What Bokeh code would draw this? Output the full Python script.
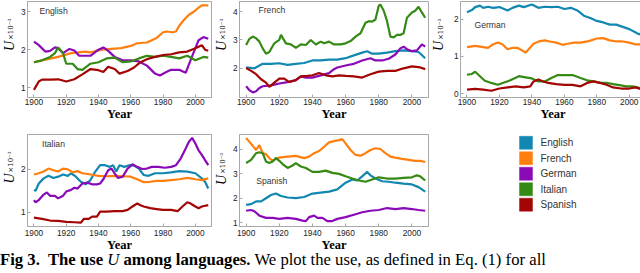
import math
from bokeh.plotting import figure
from bokeh.layouts import column, row
from bokeh.models import Label, Div, FixedTicker, Range1d
from bokeh.core.properties import value
from bokeh.embed import file_html
from bokeh.resources import INLINE

LANGS = ["English", "French", "German", "Italian", "Spanish"]
COLORS = ["#1287B1", "#FF7F0E", "#8B0AB8", "#348A14", "#A30505"]
YEAR_TICKS = [1900, 1920, 1940, 1960, 1980, 2000]

# ---- English panel (use of U by other languages in English) ----
en_French_yr = [1900,1907,1915,1923,1932,1935,1942,1948,1954,1960,1964,1970,1976,1980,1982,1986,1988,1990,1993,1996,1999,2002,2004,2008]
en_French_u = [1.67,1.74,1.81,1.91,1.95,1.93,2.00,2.02,2.04,2.10,2.17,2.19,2.31,2.46,2.48,2.46,2.48,2.63,2.79,2.92,3.00,3.11,3.17,3.17]
en_German_yr = [1900,1903,1907,1910,1913,1915,1918,1922,1925,1928,1935,1940,1943,1946,1950,1955,1960,1965,1970,1975,1978,1982,1985,1990,1994,1997,2000,2002,2005,2008]
en_German_u = [2.21,2.12,1.95,1.97,2.06,2.04,1.91,2.02,1.98,1.84,1.84,2.00,2.06,1.97,1.81,1.72,1.72,1.69,1.58,1.37,1.32,1.41,1.47,1.47,1.39,1.72,2.04,2.25,2.33,2.29]
en_Italian_yr = [1900,1905,1910,1913,1915,1918,1920,1924,1927,1930,1935,1940,1945,1950,1955,1960,1965,1970,1975,1980,1985,1990,1995,2000,2005,2008]
en_Italian_u = [1.67,1.72,1.81,1.91,2.06,1.91,1.63,1.63,1.49,1.47,1.63,1.67,1.77,1.79,1.67,1.69,1.77,1.84,1.81,1.84,1.81,1.77,1.84,1.72,1.81,1.79]
en_Spanish_yr = [1900,1903,1905,1910,1915,1920,1925,1930,1935,1940,1943,1946,1950,1953,1958,1962,1966,1970,1975,1980,1985,1990,1995,2000,2004,2006,2008]
en_Spanish_u = [0.94,1.16,1.21,1.21,1.22,1.16,1.22,1.35,1.49,1.46,1.41,1.55,1.49,1.37,1.44,1.53,1.67,1.75,1.81,1.86,1.88,1.93,1.95,2.04,2.12,2.00,1.97]

# ---- French panel ----
fr_English_yr = [1900,1905,1910,1915,1920,1925,1930,1935,1940,1945,1950,1955,1960,1965,1970,1973,1976,1980,1985,1990,1995,2000,2004,2008]
fr_English_u = [2.02,1.99,2.15,2.15,2.17,2.11,2.15,2.18,2.27,2.27,2.30,2.30,2.35,2.45,2.55,2.60,2.51,2.51,2.55,2.60,2.63,2.60,2.57,2.35]
fr_German_yr = [1900,1902,1904,1906,1908,1910,1915,1920,1925,1930,1933,1936,1940,1945,1950,1953,1955,1960,1965,1970,1975,1978,1982,1986,1990,1993,1995,1997,2000,2003,2006,2008]
fr_German_u = [1.35,1.21,1.13,1.17,1.29,1.35,1.38,1.45,1.50,1.57,1.70,1.66,1.66,1.74,1.82,1.96,2.02,2.09,2.15,2.27,2.35,2.27,2.27,2.33,2.48,2.70,2.76,2.67,2.60,2.63,2.84,2.76]
fr_Italian_yr = [1900,1902,1904,1906,1908,1910,1912,1914,1917,1920,1921,1924,1927,1930,1933,1936,1939,1942,1945,1947,1950,1953,1957,1960,1963,1966,1969,1972,1974,1976,1978,1980,1981,1983,1985,1987,1989,1991,1993,1995,1997,2000,2002,2004,2006,2008]
fr_Italian_u = [2.82,3.04,3.12,3.06,2.94,2.70,2.51,2.57,2.88,3.00,3.18,2.88,2.84,2.72,2.84,2.82,3.00,2.84,2.94,2.88,2.94,2.84,2.84,2.88,2.96,3.12,3.24,3.61,3.67,3.65,3.73,4.22,4.26,4.04,3.67,3.12,3.09,3.18,3.18,3.24,3.79,3.98,4.04,4.18,3.98,3.79]
fr_Spanish_yr = [1900,1903,1906,1909,1912,1914,1917,1920,1923,1926,1930,1933,1937,1940,1944,1948,1952,1956,1960,1965,1970,1975,1980,1985,1990,1995,2000,2005,2008]
fr_Spanish_u = [2.00,1.90,1.78,1.60,1.48,1.33,1.48,1.62,1.62,1.50,1.57,1.70,1.72,1.74,1.82,1.74,1.70,1.74,1.72,1.70,1.66,1.78,1.87,1.90,1.90,1.99,2.06,2.02,1.96]

# ---- German panel ----
de_English_yr = [1900,1903,1905,1908,1910,1913,1916,1920,1925,1928,1932,1935,1940,1944,1948,1952,1956,1960,1964,1968,1972,1976,1980,1984,1988,1992,1996,2000,2004,2006,2008]
de_English_u = [2.18,2.24,2.32,2.36,2.30,2.33,2.30,2.32,2.23,2.30,2.36,2.32,2.39,2.30,2.33,2.32,2.33,2.27,2.30,2.23,2.09,2.03,1.95,1.91,1.85,1.85,1.79,1.73,1.64,1.59,1.64]
de_French_yr = [1900,1905,1910,1913,1916,1919,1922,1925,1928,1931,1934,1936,1938,1941,1945,1948,1951,1955,1959,1962,1966,1970,1975,1980,1984,1988,1992,1996,2000,2004,2008]
de_French_u = [1.25,1.28,1.25,1.23,1.32,1.37,1.32,1.19,1.23,1.23,1.16,1.10,1.19,1.34,1.41,1.43,1.40,1.37,1.31,1.34,1.37,1.37,1.41,1.48,1.49,1.43,1.40,1.40,1.37,1.32,1.32]
de_Italian_yr = [1900,1903,1905,1908,1911,1915,1919,1922,1926,1929,1932,1936,1940,1944,1948,1952,1956,1960,1965,1970,1974,1978,1982,1986,1990,1994,1998,2002,2005,2008]
de_Italian_u = [0.51,0.53,0.59,0.47,0.35,0.29,0.24,0.29,0.35,0.41,0.47,0.44,0.41,0.33,0.33,0.42,0.50,0.50,0.50,0.42,0.36,0.33,0.29,0.29,0.26,0.23,0.20,0.20,0.17,0.14]
de_Spanish_yr = [1900,1905,1910,1915,1920,1925,1930,1935,1939,1941,1944,1947,1950,1955,1960,1965,1970,1974,1978,1982,1986,1990,1995,2000,2004,2008]
de_Spanish_u = [0.11,0.13,0.11,0.08,0.14,0.17,0.20,0.17,0.20,0.33,0.38,0.33,0.29,0.26,0.24,0.24,0.20,0.29,0.33,0.29,0.24,0.17,0.14,0.14,0.17,0.11]

# ---- Italian panel ----
it_English_yr = [1900,1901,1903,1906,1909,1912,1915,1918,1921,1923,1926,1929,1932,1935,1938,1941,1944,1947,1949,1951,1953,1956,1959,1962,1965,1968,1971,1975,1980,1985,1990,1995,2000,2004,2006,2008]
it_English_u = [1.52,1.50,1.67,1.79,1.85,1.80,1.83,1.88,1.85,1.91,1.83,1.71,1.65,1.75,1.95,2.10,2.10,2.06,2.10,1.95,2.10,2.06,2.10,2.09,2.02,1.87,1.85,1.91,1.91,1.93,1.96,1.95,1.91,1.79,1.71,1.55]
it_French_yr = [1900,1903,1906,1909,1912,1915,1918,1921,1924,1927,1930,1935,1940,1945,1950,1955,1960,1965,1968,1972,1976,1980,1985,1990,1995,2000,2004,2008]
it_French_u = [1.88,1.91,1.95,2.02,1.98,1.95,2.02,2.00,1.93,1.96,1.91,1.88,1.85,1.84,1.85,1.84,1.83,1.75,1.70,1.71,1.73,1.73,1.75,1.77,1.80,1.77,1.75,1.79]
it_German_yr = [1900,1901,1903,1906,1908,1910,1913,1915,1918,1920,1923,1925,1927,1930,1933,1936,1939,1941,1943,1946,1948,1950,1952,1955,1958,1961,1964,1967,1970,1973,1977,1981,1985,1988,1991,1994,1996,1998,2000,2002,2004,2006,2008]
it_German_u = [1.28,1.23,1.28,1.41,1.46,1.38,1.38,1.32,1.38,1.48,1.52,1.57,1.55,1.67,1.69,1.65,1.65,1.67,1.77,1.98,2.02,1.91,1.80,1.83,2.02,2.12,2.06,2.01,2.02,2.06,2.06,2.04,2.06,2.10,2.26,2.49,2.65,2.74,2.61,2.45,2.34,2.22,2.10]
it_Spanish_yr = [1900,1905,1910,1915,1920,1925,1929,1931,1934,1936,1939,1941,1945,1950,1955,1958,1961,1964,1966,1968,1972,1976,1980,1985,1989,1992,1995,1997,2000,2002,2004,2008]
it_Spanish_u = [0.87,0.84,0.80,0.79,0.77,0.76,0.75,0.84,0.84,0.89,0.89,1.01,1.01,1.02,1.02,1.05,1.13,1.20,1.16,1.13,1.09,1.07,1.05,1.05,1.02,1.13,1.23,1.20,1.13,1.09,1.13,1.16]

# ---- Spanish panel ----
es_English_yr = [1900,1903,1906,1909,1912,1915,1918,1921,1925,1930,1935,1940,1945,1950,1955,1960,1964,1967,1970,1973,1975,1978,1982,1986,1990,1995,2000,2004,2008]
es_English_u = [1.73,1.76,1.87,1.87,2.00,2.13,2.19,2.09,2.03,2.00,2.05,2.19,2.23,2.27,2.36,2.63,2.76,2.72,2.89,3.07,2.93,2.80,2.69,2.67,2.63,2.59,2.56,2.45,2.27]
es_French_yr = [1900,1902,1904,1906,1908,1910,1912,1914,1916,1918,1920,1925,1930,1935,1938,1941,1944,1947,1950,1953,1956,1958,1960,1963,1966,1969,1972,1975,1978,1981,1984,1987,1990,1994,1998,2002,2005,2008]
es_French_u = [4.45,4.29,4.13,3.96,4.16,3.83,3.79,3.63,3.52,3.60,3.65,3.69,3.72,3.63,3.69,3.83,3.92,4.09,4.27,4.32,4.36,4.40,4.23,3.96,3.76,3.73,3.83,3.96,4.03,4.00,3.83,3.69,3.65,3.60,3.56,3.52,3.52,3.47]
es_German_yr = [1900,1903,1905,1908,1912,1916,1920,1925,1930,1934,1936,1938,1941,1943,1946,1949,1952,1955,1960,1965,1970,1975,1980,1985,1990,1995,2000,2004,2008]
es_German_u = [1.49,1.52,1.47,1.29,1.20,1.20,1.16,1.20,1.16,1.09,1.07,1.23,1.29,1.20,1.20,1.07,1.07,1.16,1.23,1.33,1.43,1.49,1.52,1.60,1.56,1.60,1.56,1.52,1.49]
es_Italian_yr = [1900,1903,1906,1908,1910,1912,1914,1916,1918,1920,1922,1925,1928,1930,1933,1936,1940,1944,1948,1952,1956,1960,1964,1968,1972,1976,1980,1985,1990,1995,2000,2003,2005,2008]
es_Italian_u = [3.43,3.56,3.83,3.87,3.83,3.49,3.43,3.49,3.63,3.52,3.39,3.23,3.33,3.43,3.29,3.23,3.07,3.07,3.12,3.03,2.99,2.89,2.80,2.72,2.67,2.76,2.85,2.80,2.80,2.83,2.85,2.93,2.89,2.72]

FRAME_GRAY = "#a8a8a8"
X0, X1 = 1896, 2010
ROW1 = dict(top=1, fh=96, bottom=30, tick_standoff=1, title_standoff=-1)
ROW2 = dict(top=7, fh=92, bottom=26, tick_standoff=3, title_standoff=-1)


def ylabel_fig(width, rowcfg, baseline_x, shift):
    """Narrow strip holding the rotated y-axis title  U with subscript x10^-3.
    Texts are anchored at the middle of their boxes so that the boxes stay inside."""
    h = rowcfg["top"] + rowcfg["fh"] + rowcfg["bottom"]
    f = figure(width=width, height=h, min_border=0, x_axis_type=None, y_axis_type=None,
               x_range=Range1d(0, width), y_range=Range1d(0, h),
               toolbar_location=None, output_backend="svg")
    f.grid.visible = False
    f.outline_line_color = None
    junction = h - (rowcfg["top"] + rowcfg["fh"] / 2.0 + shift)
    f.text(x=[baseline_x - 4.7], y=[junction], text=["U"], angle=math.pi / 2,
           text_align="right", text_baseline="middle",
           text_font=value("Liberation Serif"), text_font_style="italic",
           text_font_size=value("14px"), text_color="black")
    f.text(x=[baseline_x - 2.4], y=[junction + 1], text=["×10⁻³"], angle=math.pi / 2,
           text_align="left", text_baseline="middle",
           text_font=value("DejaVu Serif"), text_font_size=value("7px"),
           text_color="black")
    return f


def panel(name, series, y_range, y_ticks, fw, left, rowcfg, lab_dx, lab_dy):
    y0, y1 = y_range
    fh = rowcfg["fh"]
    p = figure(frame_width=fw, frame_height=fh, min_border_left=left,
               min_border_right=1, min_border_top=rowcfg["top"],
               min_border_bottom=rowcfg["bottom"],
               x_range=Range1d(X0, X1), y_range=Range1d(y0, y1),
               toolbar_location=None, output_backend="svg")
    p.grid.visible = False
    p.outline_line_color = FRAME_GRAY
    for (yrs, vals, lang) in series:
        c = COLORS[LANGS.index(lang)]
        p.line(yrs, vals, line_color=c, line_width=2.2)
    for ax in (p.xaxis[0], p.yaxis[0]):
        ax.axis_line_color = FRAME_GRAY
        ax.major_tick_line_color = FRAME_GRAY
        ax.major_tick_in = 3
        ax.major_tick_out = 0
        ax.minor_tick_line_color = None
        ax.major_label_text_font = "Liberation Sans"
        ax.major_label_text_font_size = "8.3px"
        ax.major_label_text_color = "#222222"
    p.xaxis.ticker = FixedTicker(ticks=YEAR_TICKS)
    p.yaxis.ticker = FixedTicker(ticks=y_ticks)
    p.xaxis.major_label_standoff = rowcfg["tick_standoff"]
    p.yaxis.major_label_standoff = 2
    p.xaxis.axis_label = "Year"
    p.xaxis.axis_label_text_font = "Liberation Serif"
    p.xaxis.axis_label_text_font_style = "bold"
    p.xaxis.axis_label_text_font_size = "12.5px"
    p.xaxis.axis_label_text_color = "black"
    p.xaxis.axis_label_standoff = rowcfg["title_standoff"]
    # panel name, placed at a pixel offset from the frame's top-left corner
    p.add_layout(Label(x=X0 + lab_dx * (X1 - X0) / fw, y=y1 - lab_dy * (y1 - y0) / fh,
                       text=name, text_align="left", text_baseline="middle",
                       text_font="Liberation Sans", text_font_size="8.6px",
                       text_color="#333333"))
    return p


p_en = panel("English",
             [(en_French_yr, en_French_u, "French"), (en_German_yr, en_German_u, "German"),
              (en_Italian_yr, en_Italian_u, "Italian"), (en_Spanish_yr, en_Spanish_u, "Spanish")],
             (0.74, 3.27), [1, 2, 3], 184, 7, ROW1, 12, 9)
p_fr = panel("French",
             [(fr_English_yr, fr_English_u, "English"), (fr_German_yr, fr_German_u, "German"),
              (fr_Italian_yr, fr_Italian_u, "Italian"), (fr_Spanish_yr, fr_Spanish_u, "Spanish")],
             (0.95, 4.37), [2, 3, 4], 189, 7, ROW1, 19, 8.5)
p_de = panel("German",
             [(de_English_yr, de_English_u, "English"), (de_French_yr, de_French_u, "French"),
              (de_Italian_yr, de_Italian_u, "Italian"), (de_Spanish_yr, de_Spanish_u, "Spanish")],
             (-0.1, 2.47), [0, 1, 2], 185, 8, ROW1, 14, 23.5)
p_it = panel("Italian",
             [(it_English_yr, it_English_u, "English"), (it_French_yr, it_French_u, "French"),
              (it_German_yr, it_German_u, "German"), (it_Spanish_yr, it_Spanish_u, "Spanish")],
             (0.66, 2.82), [1, 2], 184, 7, ROW2, 14.5, 9.7)
p_es = panel("Spanish",
             [(es_English_yr, es_English_u, "English"), (es_French_yr, es_French_u, "French"),
              (es_German_yr, es_German_u, "German"), (es_Italian_yr, es_Italian_u, "Italian")],
             (0.85, 4.59), [1, 2, 3, 4], 189, 7, ROW2, 16.7, 46)

lab_en = ylabel_fig(17, ROW1, 13.2, 3)
lab_fr = ylabel_fig(17, ROW1, 13.2, 3)
lab_de = ylabel_fig(21, ROW1, 14.0, 3)
lab_it = ylabel_fig(17, ROW2, 13.2, 1)
lab_es = ylabel_fig(17, ROW2, 13.2, 3)

# legend panel: swatches and names drawn through the figure's own scales
LG_W = 638 - (17 + 192 + 17 + 197)
LG_H = ROW2["top"] + ROW2["fh"] + ROW2["bottom"]
ROW_PX, FIRST_ROW_PX = 21.5, 11.5
SWATCH_X, TEXT_X = 519.5 - 423, 534 - 423
lg = figure(width=LG_W, height=LG_H, min_border=0, x_axis_type=None, y_axis_type=None,
            x_range=Range1d(0, LG_W),
            y_range=Range1d((LG_H - FIRST_ROW_PX) / ROW_PX, -FIRST_ROW_PX / ROW_PX),
            toolbar_location=None, output_backend="svg")
lg.grid.visible = False
lg.outline_line_color = None
rows = list(range(len(LANGS)))
lg.rect(x=[SWATCH_X] * len(LANGS), y=rows, width=13, height=13,
        width_units="screen", height_units="screen",
        fill_color=COLORS, line_color=COLORS, line_alpha=0.45)
lg.text(x=[TEXT_X] * len(LANGS), y=rows, text=LANGS, text_baseline="middle",
        text_align="left", text_font=value("Liberation Sans"),
        text_font_size=value("10px"), text_color="#333333")

caption = Div(text=('<div style="font-family:\'Liberation Serif\';font-size:16.7px;line-height:12px;'
                    'white-space:nowrap;color:#000;position:relative;top:-1px;">'
                    '<b>Fig 3.&nbsp; The use <i style="font-weight:normal">U</i> among languages.</b>'
                    ' We plot the use, as defined in Eq. (1) for all</div>'),
              width=638, height=16, margin=0)

p = column(row(lab_en, p_en, lab_fr, p_fr, lab_de, p_de),
           row(lab_it, p_it, lab_es, p_es, lg),
           caption)

open("out.html", "w").write(file_html(p, INLINE))
